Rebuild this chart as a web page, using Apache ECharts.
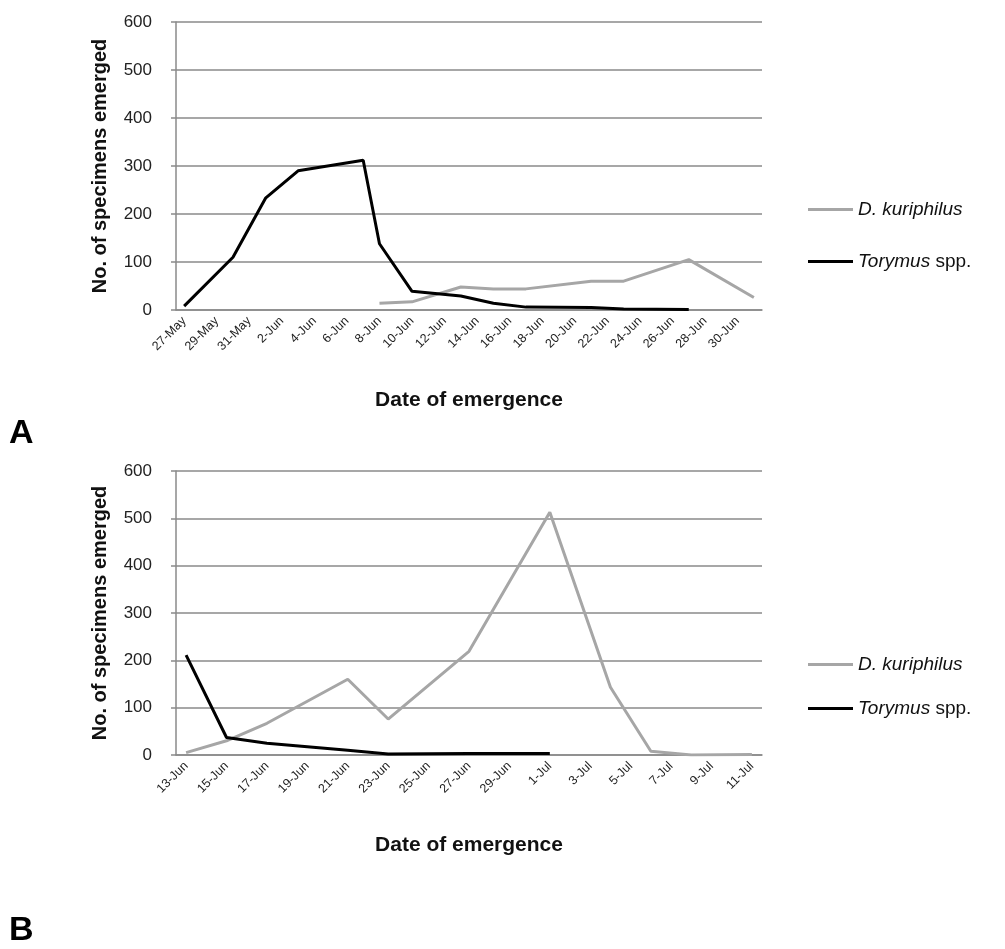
<!DOCTYPE html>
<html>
<head>
<meta charset="utf-8">
<script src="https://cdn.jsdelivr.net/npm/echarts@6/dist/echarts.min.js"></script>
<style>
html,body{margin:0;padding:0;background:#fff;}
#c{width:1005px;height:949px;}
</style>
</head>
<body>
<div id="c"></div>
<script>
// ---- Data ----
const catsA = ['27-May','28-May','29-May','30-May','31-May','1-Jun','2-Jun','3-Jun','4-Jun','5-Jun','6-Jun','7-Jun','8-Jun','9-Jun','10-Jun','11-Jun','12-Jun','13-Jun','14-Jun','15-Jun','16-Jun','17-Jun','18-Jun','19-Jun','20-Jun','21-Jun','22-Jun','23-Jun','24-Jun','25-Jun','26-Jun','27-Jun','28-Jun','29-Jun','30-Jun','1-Jul'];
const kuriADates = ['8-Jun','10-Jun','13-Jun','15-Jun','17-Jun','21-Jun','23-Jun','27-Jun','1-Jul'];
const kuriAValues = [14, 17, 48, 44, 44, 60, 60, 105, 26];
const toryADates = ['27-May','30-May','1-Jun','3-Jun','7-Jun','8-Jun','10-Jun','13-Jun','15-Jun','17-Jun','21-Jun','23-Jun','27-Jun'];
const toryAValues = [8, 110, 233, 290, 312, 138, 39, 29, 14, 6, 5, 2, 1];

const catsB = ['13-Jun','14-Jun','15-Jun','16-Jun','17-Jun','18-Jun','19-Jun','20-Jun','21-Jun','22-Jun','23-Jun','24-Jun','25-Jun','26-Jun','27-Jun','28-Jun','29-Jun','30-Jun','1-Jul','2-Jul','3-Jul','4-Jul','5-Jul','6-Jul','7-Jul','8-Jul','9-Jul','10-Jul','11-Jul'];
const kuriBDates = ['13-Jun','15-Jun','17-Jun','21-Jun','23-Jun','27-Jun','1-Jul','4-Jul','6-Jul','8-Jul','11-Jul'];
const kuriBValues = [5, 30, 67, 160, 76, 219, 513, 143, 8, 0, 1];
const toryBDates = ['13-Jun','15-Jun','17-Jun','21-Jun','23-Jun','27-Jun','1-Jul'];
const toryBValues = [211, 37, 25, 10, 2, 3, 3];

const yTicks = [0, 100, 200, 300, 400, 500, 600];
const nameKuri = 'D. kuriphilus';
const nameTory = 'Torymus spp.';

// ---- Style ----
const FONT = 'Liberation Sans, Arial, sans-serif';
const GRID_COLOR = '#8a8a8a';
const GRAY = '#a6a6a6';
const BLACK = '#000000';

function pairs(d, v){ return d.map((x,i)=>[x, v[i]]); }

function xAxis(cats, gridIndex){
  return {
    type:'category', gridIndex, data:cats, boundaryGap:true,
    axisLine:{show:true, lineStyle:{color:GRID_COLOR, width:1.5}},
    axisTick:{show:false},
    axisLabel:{interval:1, rotate:45, fontFamily:FONT, fontSize:12.5, color:'#222', margin:9},
    name:'Date of emergence', nameLocation:'middle', nameGap:80,
    nameTextStyle:{fontFamily:FONT, fontSize:21, fontWeight:'bold', color:'#111'},
    splitLine:{show:false}
  };
}
function yAxis(gridIndex){
  return {
    type:'value', gridIndex, min:yTicks[0], max:yTicks[yTicks.length-1], interval:yTicks[1]-yTicks[0],
    axisLine:{show:true, lineStyle:{color:GRID_COLOR, width:1.5}},
    axisTick:{show:true, length:5, lineStyle:{color:GRID_COLOR, width:1.5}},
    axisLabel:{fontFamily:FONT, fontSize:17, color:'#222', margin:24},
    splitLine:{show:true, lineStyle:{color:GRID_COLOR, width:1.5}},
    name:'No. of specimens emerged', nameLocation:'middle', nameGap:66, nameRotate:90,
    nameTextStyle:{fontFamily:FONT, fontSize:20, fontWeight:'bold', color:'#111'}
  };
}
function lineSeries(name, data, color, xi, width){
  return {
    type:'line', name, xAxisIndex:xi, yAxisIndex:xi, data,
    showSymbol:false, symbol:'none', smooth:false,
    lineStyle:{color, width}, itemStyle:{color},
    emphasis:{disabled:true}, animation:false
  };
}
function legend(top, gap){
  return {
    left:803, top, orient:'vertical', itemGap:gap,
    icon:'rect', itemWidth:45, itemHeight:3,
    data:[nameKuri, nameTory],
    selectedMode:false,
    formatter: function(n){ return n===nameKuri ? '{i|D. kuriphilus}' : '{i|Torymus} spp.'; },
    textStyle:{fontFamily:FONT, fontSize:19, color:'#111',
      rich:{i:{fontFamily:FONT, fontSize:19, fontStyle:'italic', color:'#111'}}}
  };
}

const chart = echarts.init(document.getElementById('c'), null, {renderer:'canvas'});
chart.setOption({
  backgroundColor:'#fff',
  animation:false,
  grid:[
    {left:176, top:22, width:586, height:288},
    {left:176, top:471, width:586, height:284}
  ],
  xAxis:[xAxis(catsA,0), xAxis(catsB,1)],
  yAxis:[yAxis(0), yAxis(1)],
  legend:[legend(195, 33), legend(650, 25)],
  series:[
    lineSeries(nameKuri, pairs(kuriADates, kuriAValues), GRAY, 0, 3),
    lineSeries(nameTory, pairs(toryADates, toryAValues), BLACK, 0, 3),
    lineSeries(nameKuri, pairs(kuriBDates, kuriBValues), GRAY, 1, 3),
    lineSeries(nameTory, pairs(toryBDates, toryBValues), BLACK, 1, 3)
  ],
  graphic:[
    {type:'text', left:9, top:417, style:{text:'A', fontFamily:FONT, fontSize:34, fontWeight:'bold', fill:'#000'}},
    {type:'text', left:9, top:914, style:{text:'B', fontFamily:FONT, fontSize:34, fontWeight:'bold', fill:'#000'}}
  ]
});
</script>
</body>
</html>
